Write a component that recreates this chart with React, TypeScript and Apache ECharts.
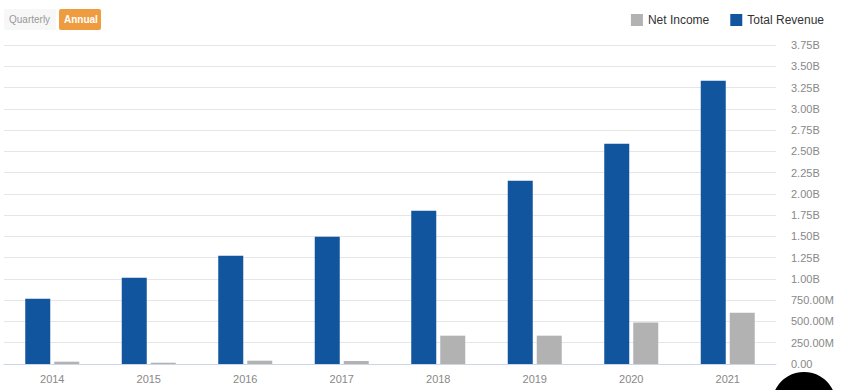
import React, { useEffect, useRef } from "react";
import * as echarts from "echarts";

const years = ["2014", "2015", "2016", "2017", "2018", "2019", "2020", "2021"];
const totalRevenue = [0.768e9, 1.014e9, 1.273e9, 1.496e9, 1.802e9, 2.155e9, 2.59e9, 3.33e9];
const netIncome = [27e6, 15e6, 39e6, 35e6, 333e6, 333e6, 489e6, 603e6];
const legendOrder = ["Net Income", "Total Revenue"];

const FONT = "Arial, 'Liberation Sans', sans-serif";

function fmt(v: number): string {
  if (v === 0) return "0.00";
  if (v >= 1e9) return (v / 1e9).toFixed(2) + "B";
  return (v / 1e6).toFixed(2) + "M";
}

export default function App() {
  const ref = useRef<HTMLDivElement>(null);
  useEffect(() => {
    if (!ref.current) return;
    const chart = echarts.init(ref.current, undefined, { renderer: "svg" });
    chart.setOption({
      animation: false,
      backgroundColor: "#ffffff",
      textStyle: { fontFamily: FONT },
      grid: { left: 4, right: 74, top: 45, bottom: 26, containLabel: false },
      legend: {
        data: legendOrder,
        right: 21,
        top: 9,
        icon: "rect",
        itemWidth: 12,
        itemHeight: 12,
        itemGap: 21,
        textStyle: { fontFamily: FONT, fontSize: 12, color: "#333333" },
      },
      xAxis: {
        type: "category",
        data: years,
        axisLine: { show: true, lineStyle: { color: "#ccd6eb", width: 1 } },
        axisTick: { show: false },
        axisLabel: { color: "#888888", fontSize: 11, margin: 9, fontFamily: FONT },
        splitLine: { show: false },
      },
      yAxis: {
        type: "value",
        position: "right",
        min: 0,
        max: 3.75e9,
        interval: 0.25e9,
        axisLine: { show: false },
        axisTick: { show: false },
        axisLabel: {
          color: "#888888",
          fontSize: 11,
          margin: 15,
          fontFamily: FONT,
          padding: [5, 0, 0, 0],
          formatter: (v: number) => fmt(v),
        },
        splitLine: { show: true, lineStyle: { color: "#e6e6e6", width: 1 } },
      },
      series: [
        {
          name: "Total Revenue",
          type: "bar",
          data: totalRevenue,
          barWidth: 25,
          barGap: "16%",
          itemStyle: { color: "#12559f" },
        },
        {
          name: "Net Income",
          type: "bar",
          data: netIncome,
          barWidth: 25,
          barGap: "16%",
          itemStyle: { color: "#b2b2b2" },
        },
      ],
      graphic: [
        {
          type: "rect",
          left: 4,
          top: 9,
          shape: { width: 52, height: 21, r: 2 },
          style: { fill: "#f7f7f7" },
        },
        {
          type: "text",
          left: 9,
          top: 14,
          style: { text: "Quarterly", fill: "#999999", fontSize: 10, fontFamily: FONT },
        },
        {
          type: "rect",
          left: 59,
          top: 9,
          shape: { width: 42, height: 21, r: 2 },
          style: { fill: "#ee9c3f" },
        },
        {
          type: "text",
          left: 64,
          top: 14,
          style: { text: "Annual", fill: "#ffffff", fontSize: 10, fontWeight: "bold", fontFamily: FONT },
        },
        {
          type: "circle",
          shape: { cx: 804, cy: 404, r: 32 },
          style: { fill: "#000000" },
          z: 100,
        },
      ],
    });
    return () => chart.dispose();
  }, []);
  return (
    <div
      ref={ref}
      style={{ position: "fixed", left: 0, top: 0, width: 850, height: 390 }}
    />
  );
}
